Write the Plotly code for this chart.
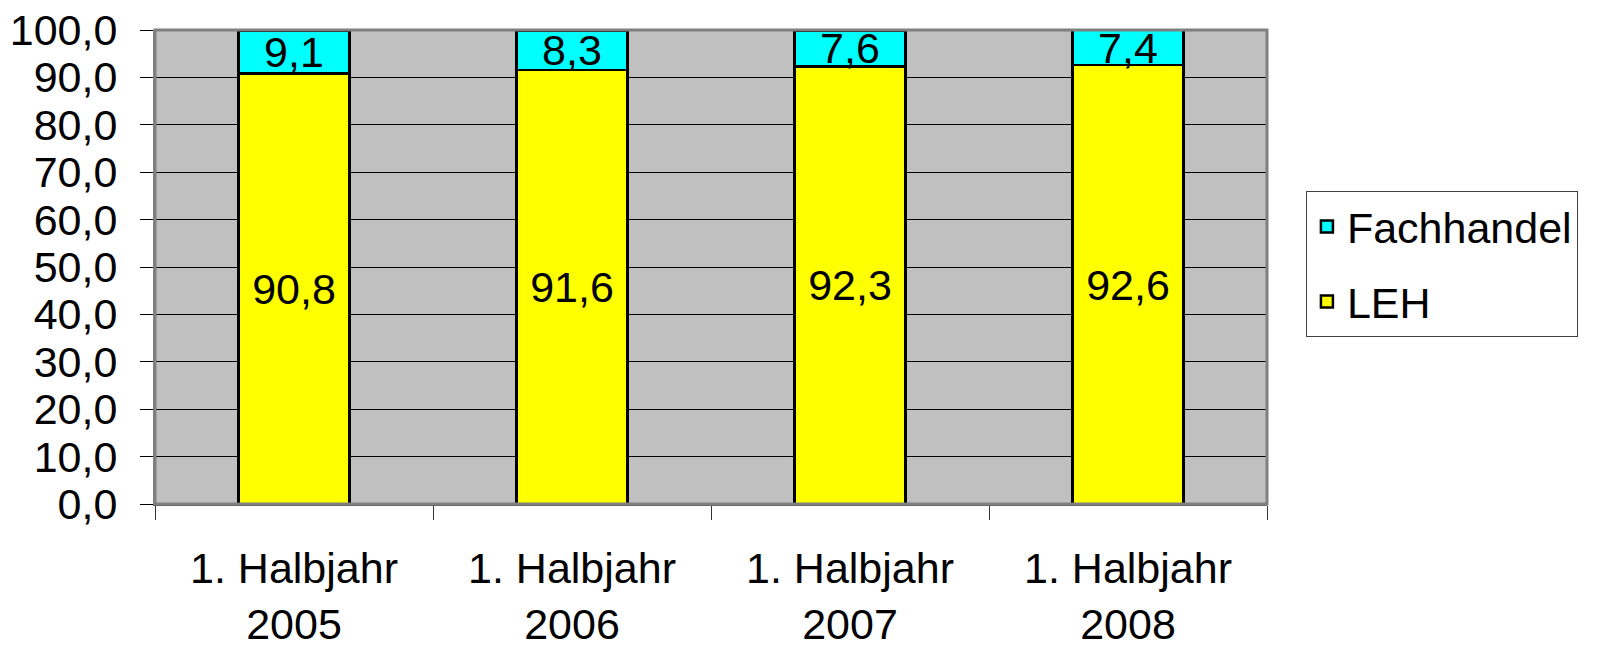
import plotly.graph_objects as go

categories = ["1. Halbjahr<br>2005", "1. Halbjahr<br>2006", "1. Halbjahr<br>2007", "1. Halbjahr<br>2008"]
leh = [90.8, 91.6, 92.3, 92.6]
fachhandel = [9.1, 8.3, 7.6, 7.4]

FONT = "Liberation Sans, Arial, sans-serif"
FS = 43

fig = go.Figure()
fig.add_trace(go.Bar(
    x=categories, y=leh, name="LEH", legendgroup="b", legendrank=2,
    marker=dict(color="#FFFF00", line=dict(color="black", width=2.5)),
    text=[f"{v:.1f}".replace(".", ",") for v in leh],
    textposition="inside", insidetextanchor="middle", constraintext="none",
    textfont=dict(family=FONT, size=FS, color="black"),
))
fig.add_trace(go.Bar(
    x=categories, y=fachhandel, name="Fachhandel", legendgroup="a", legendrank=1,
    marker=dict(color="#00FFFF", line=dict(color="black", width=2.5)),
    text=[f"{v:.1f}".replace(".", ",") for v in fachhandel],
    textposition="inside", insidetextanchor="middle", constraintext="none",
    textfont=dict(family=FONT, size=FS, color="black"),
))

fig.update_layout(
    barmode="stack",
    bargap=0.6,
    width=1601, height=651,
    margin=dict(l=155, r=334, t=30, b=147, autoexpand=False),
    paper_bgcolor="white",
    plot_bgcolor="#C0C0C0",
    separators=",.",
    font=dict(family=FONT, size=FS, color="black"),
    legend=dict(
        x=1.035, xanchor="left", y=0.66, yanchor="top",
        traceorder="grouped", tracegroupgap=16,
        bordercolor="#404040", borderwidth=1, bgcolor="white",
        font=dict(family=FONT, size=FS, color="black"),
    ),
    showlegend=True,
)
fig.update_yaxes(
    range=[0, 100], dtick=10, tickformat=".1f", automargin=False,
    ticklabeloverflow="allow",
    showgrid=True, gridcolor="black", gridwidth=1,
    ticks="outside", ticklen=13, tickcolor="black", tickwidth=1,
    showline=True, linecolor="#808080", linewidth=2,
    ticklabelstandoff=14,
    zeroline=False,
    tickfont=dict(family=FONT, size=FS, color="black"),
)
fig.update_xaxes(
    tickson="boundaries", automargin=False,
    ticklabeloverflow="allow",
    ticks="outside", ticklen=14, tickcolor="#333333", tickwidth=1,
    showline=True, linecolor="#555555", linewidth=2,
    ticklabelstandoff=25,
    tickfont=dict(family=FONT, size=FS, color="black"),
)
# plot area border
fig.add_shape(type="rect", xref="paper", yref="paper", x0=0, x1=1, y0=0, y1=1,
              line=dict(color="#808080", width=3), layer="above")

fig.write_html(
    "out.html",
    config={"displayModeBar": False},
    post_script="document.body.style.margin='0';document.body.style.overflow='hidden';",
)
